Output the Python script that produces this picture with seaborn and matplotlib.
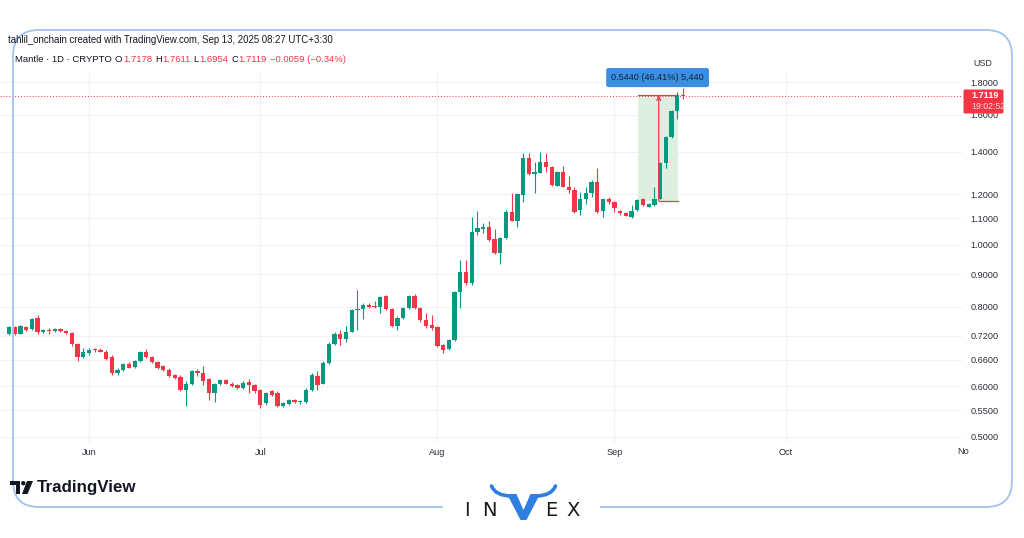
import numpy as np
import pandas as pd
import matplotlib
matplotlib.use("Agg")
import matplotlib.pyplot as plt
import seaborn as sns
from matplotlib.path import Path
from matplotlib.patches import PathPatch, Polygon, Circle, FancyBboxPatch
from matplotlib.ticker import FixedLocator, NullLocator, FixedFormatter

# ---------------- data ----------------
start_date = "2025-05-18"
opens = [
    .724, .742, .726, .744, .738, .769, .731, .735, .733, .737,
    .733, .727, .699, .668, .676, .686, .685, .680, .668, .629,
    .637, .651, .643, .657, .680, .668, .655, .645, .637, .624,
    .620, .593, .606, .633, .629, .615, .586, .605, .614, .606,
    .603, .596, .609, .603, .592, .564, .589, .586, .559, .562,
    .571, .566, .567, .593, .623, .606, .652, .700, .726, .713,
    .731, .789, .794, .804, .803, .800, .830, .793, .747, .767,
    .796, .830, .796, .763, .749, .742, .696, .686, .709, .844,
    .908, .871, 1.048, 1.058, 1.065, 1.020, .970, 1.024, 1.127, 1.091,
    1.197, 1.366, 1.290, 1.298, 1.350, 1.326, 1.238, 1.300, 1.233, 1.219,
    1.134, 1.182, 1.204, 1.256, 1.131, 1.182, 1.168, 1.130, 1.121, 1.107,
    1.134, 1.182, 1.148, 1.155, 1.182, 1.345, 1.474, 1.621, 1.7178,
]
closes = [
    .742, .724, .747, .735, .765, .729, .735, .732, .738, .733,
    .727, .698, .668, .680, .684, .683, .680, .662, .629, .637,
    .650, .642, .657, .680, .666, .654, .641, .637, .623, .619,
    .592, .606, .633, .629, .612, .586, .605, .614, .606, .601,
    .596, .608, .603, .589, .561, .585, .582, .559, .564, .571,
    .566, .569, .593, .625, .603, .653, .700, .726, .711, .731,
    .789, .794, .805, .800, .800, .828, .793, .747, .769, .796,
    .830, .796, .761, .747, .740, .694, .684, .709, .844, .908,
    .871, 1.048, 1.061, 1.065, 1.017, .970, 1.026, 1.127, 1.091, 1.200,
    1.366, 1.290, 1.300, 1.350, 1.326, 1.241, 1.300, 1.233, 1.219, 1.127,
    1.182, 1.204, 1.256, 1.127, 1.178, 1.168, 1.141, 1.121, 1.111, 1.131,
    1.175, 1.155, 1.159, 1.182, 1.345, 1.477, 1.621, 1.7178, 1.7119,
]
highs = [
    .747, .745, .750, .746, .769, .775, .738, .740, .741, .740,
    .736, .730, .701, .688, .688, .690, .688, .683, .672, .641,
    .653, .655, .660, .682, .686, .670, .658, .648, .640, .627,
    .624, .612, .636, .638, .646, .618, .608, .617, .617, .609,
    .606, .611, .617, .606, .595, .588, .593, .589, .567, .574,
    .573, .572, .596, .629, .633, .657, .704, .730, .735, .745,
    .792, .849, .810, .812, .815, .830, .833, .796, .772, .800,
    .834, .836, .799, .781, .776, .745, .699, .712, .847, .947,
    .947, 1.105, 1.131, 1.083, 1.091, 1.058, 1.030, 1.132, 1.207, 1.204,
    1.395, 1.395, 1.350, 1.400, 1.395, 1.330, 1.305, 1.330, 1.280, 1.233,
    1.211, 1.230, 1.264, 1.318, 1.182, 1.190, 1.172, 1.135, 1.126, 1.155,
    1.180, 1.186, 1.163, 1.233, 1.350, 1.482, 1.628, 1.736, 1.7611,
]
lows = [
    .722, .721, .724, .733, .736, .726, .728, .724, .730, .731,
    .725, .695, .657, .664, .673, .680, .678, .660, .626, .625,
    .635, .640, .641, .655, .664, .652, .639, .635, .620, .617,
    .589, .559, .603, .622, .603, .571, .567, .602, .604, .599,
    .594, .594, .585, .586, .555, .561, .579, .557, .556, .560,
    .564, .563, .565, .591, .592, .604, .650, .697, .697, .705,
    .729, .735, .765, .796, .797, .781, .790, .744, .735, .764,
    .793, .793, .758, .740, .735, .691, .677, .683, .706, .796,
    .866, .866, 1.036, 1.042, 1.014, .966, .933, 1.020, 1.088, 1.067,
    1.169, 1.285, 1.204, 1.295, 1.302, 1.238, 1.235, 1.230, 1.204, 1.120,
    1.114, 1.160, 1.190, 1.120, 1.107, 1.160, 1.127, 1.115, 1.108, 1.100,
    1.130, 1.150, 1.145, 1.150, 1.178, 1.320, 1.468, 1.573, 1.6954,
]
price_ticks = [0.50, 0.55, 0.60, 0.66, 0.72, 0.80, 0.90, 1.00, 1.10, 1.20, 1.40, 1.60, 1.80]
month_dates = ["2025-06-01", "2025-07-01", "2025-08-01", "2025-09-01", "2025-10-01"]
month_labels = ["Jun", "Jul", "Aug", "Sep", "Oct"]
last_price = 1.7119
last_time = "19:02:52"
range_low = 1.1722
range_high = 1.7162
range_start = "2025-09-05"
range_end = "2025-09-12"
range_label = "0.5440 (46.41%) 5,440"
header_line = "tahlil_onchain created with TradingView.com, Sep 13, 2025 08:27 UTC+3:30"
symbol_line = "Mantle · 1D · CRYPTO"
ohlc_names = ["O", "H", "L", "C"]
ohlc_values = ["1.7178", "1.7611", "1.6954", "1.7119"]
change_text = "−0.0059 (−0.34%)"

GREEN = "#089981"
RED = "#f23645"
TXT = "#131722"

# ---------------- style ----------------
sns.set_style("white")
plt.rcParams['font.family'] = ['Liberation Sans', 'DejaVu Sans']

t0 = pd.Timestamp(start_date)
df = pd.DataFrame({
    "date": pd.date_range(start_date, periods=len(opens), freq="D"),
    "open": opens, "high": highs, "low": lows, "close": closes,
})
df["day"] = (df["date"] - t0).dt.days
df["up"] = df["close"] >= df["open"]
df["color"] = np.where(df["up"], GREEN, RED)
df["bottom"] = df[["open", "close"]].min(axis=1)
df["height"] = np.maximum((df["close"] - df["open"]).abs(), df["bottom"] * 0.003)

fig = plt.figure(figsize=(10.24, 5.38), dpi=100)
fig.patch.set_facecolor("white")
W, H = 1024, 538
ax = fig.add_axes([0, 95 / H, 962 / W, 371 / H])
ax.set_facecolor("white")
ax.set_yscale("log")
ax.set_ylim(0.48897, 1.8662)
ax.set_xlim(-1.576, 166.84)
for s in ax.spines.values():
    s.set_visible(False)

# grid
month_days = [(pd.Timestamp(d) - t0).days for d in month_dates]
for p in price_ticks:
    ax.axhline(p, color="#f0f2f6", lw=0.8, zorder=0)
for d in month_days:
    ax.axvline(d, color="#f0f2f6", lw=0.8, zorder=0)

# measurement box
x0 = (pd.Timestamp(range_start) - t0).days + 0.1
x1 = (pd.Timestamp(range_end) - t0).days + 0.2
xm = (x0 + x1) / 2 + 0.1
ax.fill_between([x0, x1], range_low, range_high, color="#dcefe0", zorder=1, lw=0)

# candles
ax.vlines(df["day"], df["low"], df["high"], colors=df["color"], lw=0.8, zorder=3)
ax.bar(df["day"], df["height"], bottom=df["bottom"], width=0.75, color=df["color"],
       linewidth=0, zorder=4)

# current price line
ax.axhline(last_price, color=RED, ls=(0, (1, 2)), lw=0.7, zorder=2)

# measurement lines
ax.plot([x0, x1], [range_high, range_high], color=RED, lw=0.9, zorder=5)
ax.plot([xm, x1], [range_low, range_low], color=RED, lw=0.9, zorder=5)
ax.annotate("", xy=(xm, range_high), xytext=(xm, range_low),
            arrowprops=dict(arrowstyle="->", color=RED, lw=0.9, shrinkA=0, shrinkB=0,
                            mutation_scale=7), zorder=5)
ax.text(xm - 0.2, 1.829, range_label, ha="center", va="center", fontsize=6.6, color="#10243e",
        zorder=6, clip_on=False,
        bbox=dict(boxstyle="round,pad=0.55,rounding_size=0.25", fc="#3b8fe3", ec="none"))

# axes ticks
ax.yaxis.tick_right()
ax.yaxis.set_major_locator(FixedLocator(price_ticks))
ax.yaxis.set_major_formatter(FixedFormatter([f"{p:.4f}" for p in price_ticks]))
ax.yaxis.set_minor_locator(NullLocator())
ax.tick_params(axis="y", which="both", length=0, pad=6.2, labelsize=6.6, labelcolor="#2a2e39")
ax.set_xticks(month_days)
ax.set_xticklabels(month_labels)
ax.tick_params(axis="x", length=0, pad=3.5, labelsize=6.6, labelcolor="#2a2e39")
ax.grid(False)

# ---------------- overlay (pixel coords) ----------------
ov = fig.add_axes([0, 0, 1, 1], zorder=10)
ov.set_xlim(0, W)
ov.set_ylim(H, 0)
ov.axis("off")
ov.patch.set_alpha(0)

ov.text(8, 40, header_line, fontsize=6.95, color=TXT, va="center", ha="left")

# symbol / OHLC line, chained so that pieces never overlap
fs2 = 6.8
prev = ov.text(15, 59.5, symbol_line, fontsize=fs2, color=TXT, va="center", ha="left")
pieces = []
for n, v in zip(ohlc_names, ohlc_values):
    pieces.append((n, TXT, 2.2))
    pieces.append((v, RED, 0.3))
pieces.append((change_text, RED, 2.2))
for txt, col, gap in pieces:
    prev = ov.annotate(txt, xy=(1, 0.5), xycoords=prev, xytext=(gap, 0),
                       textcoords="offset points", fontsize=fs2, color=col,
                       va="center", ha="left")

ov.text(973, 63, "USD", fontsize=6.4, color="#2a2e39", va="center", ha="left")
ov.text(957, 452, "No", fontsize=6.6, color="#2a2e39", va="center", ha="left")

# price label
ov.add_patch(FancyBboxPatch((963.5, 89.5), 40, 24, boxstyle="round,pad=0,rounding_size=1.5",
                            fc=RED, ec="none"))
ov.text(971, 95.5, f"{last_price:.4f}", fontsize=6.5, color="white", va="center", ha="left",
        fontweight="bold")
ov.text(971, 106.5, last_time, fontsize=6.3, color="#ffd9dc", va="center", ha="left")

# frame
L, R, T, B, r = 13, 1012, 30, 507, 26
verts = [(443, B), (L + r, B), (L, B), (L, B - r), (L, T + r), (L, T), (L + r, T),
         (R - r, T), (R, T), (R, T + r), (R, B - r), (R, B), (R - r, B), (600, B)]
codes = [Path.MOVETO, Path.LINETO, Path.CURVE3, Path.CURVE3, Path.LINETO, Path.CURVE3,
         Path.CURVE3, Path.LINETO, Path.CURVE3, Path.CURVE3, Path.LINETO, Path.CURVE3,
         Path.CURVE3, Path.LINETO]
ov.add_patch(PathPatch(Path(verts, codes), fill=False, ec="#9fc3ee", lw=1.3))

# TradingView logo
ov.add_patch(Polygon([(10, 481), (20, 481), (20, 494), (15.5, 494), (15.5, 485), (10, 485)],
                     closed=True, fc=TXT, ec="none"))
ov.add_patch(Circle((23.3, 483.2), 2.2, fc=TXT, ec="none"))
ov.add_patch(Polygon([(27, 481), (33, 481), (27.5, 494), (22, 494)], closed=True, fc=TXT, ec="none"))
ov.text(37, 487.5, "TradingView", fontsize=12.2, fontweight="bold", color=TXT,
        va="center", ha="left")

# INVEX logo
for ch, cx in zip(["I", "N", "E", "X"], [467, 489, 551, 573]):
    ov.text(cx, 511, ch, fontsize=14, color="#1b1b1b", va="center", ha="center",
            family=["DejaVu Sans"])
ov.add_patch(Polygon([(507, 494), (516.5, 494), (523.5, 510), (530.5, 494), (540, 494),
                      (526.5, 520), (520.5, 520)], closed=True, fc="#2f7fe0", ec="none"))
for sgn in (-1, 1):
    hx = 523.5 + sgn * 12
    hv = [(hx, 496), (523.5 + sgn * 28, 496), (523.5 + sgn * 32, 486)]
    ov.add_patch(PathPatch(Path(hv, [Path.MOVETO, Path.CURVE3, Path.CURVE3]), fill=False,
                           ec="#2f7fe0", lw=2.6, capstyle="round"))

fig.savefig("out.png", dpi=100)
